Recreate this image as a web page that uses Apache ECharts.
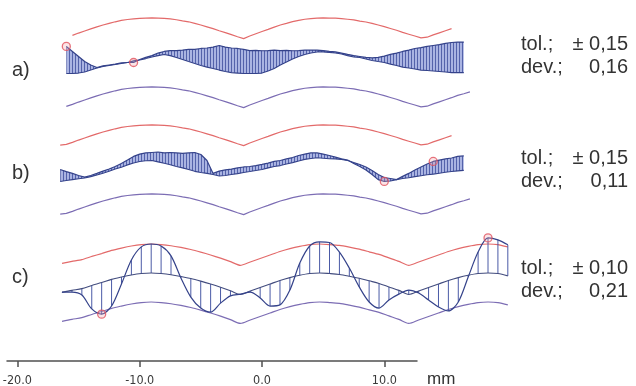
<!DOCTYPE html>
<html><head><meta charset="utf-8">
<script src="https://cdn.jsdelivr.net/npm/echarts@6/dist/echarts.min.js"></script>
<style>html,body{margin:0;padding:0;background:#fff}#c{width:636px;height:386px}</style>
</head><body><div id="c"></div>
<script>
// ---------------- data ----------------
const panelNames = ['a)', 'b)', 'c)'];
const tolMm = [0.15, 0.15, 0.10];
const devMm = [0.16, 0.11, 0.21];
const axisTicks = [-20, -10, 0, 10];
const axisUnit = 'mm';

// panels a and b: samples every 0.5 mm starting at -16.5 mm; values in µm
const xStartAB = -16.5, xStepAB = 0.5;
const bandMidAB = [-44,-41,-32,-22,-13,-4,5,13,20,27,33,37,40,42,43,44,43,42,40,36,31,27,20,13,5,-3,-12,-20,-29,-38,-46,-35,-25,-15,-6,4,13,20,28,33,38,41,43,44,43,43,41,38,35,30,26,20,13,6,-2,-10,-19,-27,-35,-43,-40,-30,-21,-12,-3,7,14,22,28];
const nominalA = [null,-48,-48,-46,-41,-33,-24,-17,-13,-9,-4,0,7,11,17,24,30,35,30,22,13,4,-4,-13,-20,-26,-33,-39,-44,-46,-48,-48,-48,-46,-37,-26,-11,2,15,26,35,41,46,46,44,41,37,30,24,22,15,9,4,0,-7,-13,-20,-24,-28,-33,-35,-37,-39,-41,-44,-44,-44,null,null];
const measuredA = [null,70,48,26,4,-11,-22,-15,-11,-7,-2,0,0,13,22,30,41,48,52,52,54,57,57,61,63,67,74,67,63,61,57,52,53,51,52,54,52,53,51,52,54,54,54,52,48,46,41,35,30,26,22,20,22,28,35,41,48,54,61,65,70,74,78,83,87,89,89,null,null];
const nominalB = [-52,-48,-44,-40,-37,-31,-24,-16,-8,2,10,20,28,35,38,39,33,27,21,13,7,0,-8,-13,-17,-22,-28,-26,-22,-18,-13,-9,-4,0,7,13,17,24,30,37,44,48,51,49,47,46,44,39,30,22,11,-4,-22,-35,-39,-44,-39,-36,-31,-27,-23,-20,-16,-12,-9,-6,-4,null,null];
const measuredB = [0,-9,-17,-26,-33,-26,-17,-7,2,13,26,41,57,67,72,74,76,72,74,72,70,72,74,65,39,-17,-7,-2,2,7,11,13,17,22,28,35,39,46,52,61,67,72,72,67,61,54,46,41,26,13,-2,-22,-44,-52,-50,-44,-30,-17,-2,11,24,35,41,46,50,57,59,null,null];

// panel c: samples every 0.81 mm starting at -16.35 mm; values in µm
const xStartC = -16.35, xStepC = 0.81;
const nominalC = [-29,-22,-16,-5,5,16,24,31,36,38,36,32,26,19,10,0,-11,-23,-36,-24,-12,0,12,22,30,36,38,36,33,27,20,11,2,-10,-22,-36,-24,-12,0,12,22,30,36,38,36,28];
const measuredC = [-28,-28,-38,-86,-104,-76,0,83,128,138,131,97,21,-45,-83,-97,-66,-41,-35,-28,-48,-76,-72,-21,72,131,145,143,110,55,-10,-62,-83,-55,-35,-21,-31,-55,-79,-93,-62,24,110,159,152,135];

// extents (mm) of upper / lower tolerance lines per panel
const upperRange = [[-15.7, 15.5], [-16.3, 15.3], [-16.4, 20.1]];
const lowerRange = [[-16.1, 17.2], [-16.4, 17.1], [-16.5, 20.1]];
// marked points: sample index on the measured profile
const markA = [1, 12];
const markB = [53, 61];
const markC = [4, 43];

// ---------------- chart ----------------
const X_MIN = -20.85, X_AXIS_MAX = 12.67, X_PLOT_MAX = 20.85;
const xsAB = bandMidAB.map((_, i) => +(xStartAB + i * xStepAB).toFixed(3));
const xsC = nominalC.map((_, i) => +(xStartC + i * xStepC).toFixed(3));

const panels = [
  {xs: xsAB, mid: bandMidAB, nom: nominalA, meas: measuredA, mark: markA, yR: 250, top: 5, height: 115, fill: true},
  {xs: xsAB, mid: bandMidAB, nom: nominalB, meas: measuredB, mark: markB, yR: 250, top: 112, height: 115, fill: true},
  {xs: xsC, mid: nominalC, nom: nominalC, meas: measuredC, mark: markC, yR: 200, top: 226, height: 116, fill: false}
];

const pat = document.createElement('canvas');
pat.width = 3; pat.height = 4;
const pg = pat.getContext('2d');
pg.fillStyle = '#aab4e2'; pg.fillRect(0, 0, 3, 4);
pg.fillStyle = '#5462aa'; pg.fillRect(0, 0, 1, 4);
const hatchFill = {image: pat, repeat: 'repeat'};

const RED = '#e36a6a', PURPLE = '#7c6db4', DARK = '#34428a';
const grids = [], xAxes = [], yAxes = [], series = [];

panels.forEach((P, p) => {
  grids.push({left: 7, width: 510, top: P.top, height: P.height, containLabel: false, outerBoundsMode: 'none'});
  xAxes.push({gridIndex: p, type: 'value', min: X_MIN, max: X_PLOT_MAX, show: false});
  yAxes.push({gridIndex: p, type: 'value', min: -P.yR, max: P.yR, show: false});
  const tol = tolMm[p] * 1000;
  const inR = (x, r) => x >= r[0] - 0.26 && x <= r[1] + 0.26;
  const base = {type: 'line', xAxisIndex: p, yAxisIndex: p, symbol: 'none', silent: true, animation: false};
  const smooth = P.fill ? false : 0.3;
  series.push(Object.assign({}, base, {
    data: P.xs.map((x, i) => inR(x, upperRange[p]) ? [x, P.mid[i] + tol] : null).filter(Boolean),
    lineStyle: {color: RED, width: 1.2}, smooth: P.fill ? false : 0.15, z: 2
  }));
  series.push(Object.assign({}, base, {
    data: P.xs.map((x, i) => inR(x, lowerRange[p]) ? [x, P.mid[i] - tol] : null).filter(Boolean),
    lineStyle: {color: PURPLE, width: 1.2}, smooth: P.fill ? false : 0.3, z: 2
  }));
  const valid = P.xs.map((x, i) => i).filter(i => P.nom[i] != null && P.meas[i] != null);
  if (P.fill) {
    series.push({
      type: 'custom', xAxisIndex: p, yAxisIndex: p, silent: true, animation: false, z: 3,
      data: [[P.xs[valid[0]], P.nom[valid[0]]]],
      renderItem: (params, api) => {
        if (params.dataIndex !== 0) return null;
        const pts = [];
        valid.forEach(i => pts.push(api.coord([P.xs[i], P.nom[i]])));
        valid.slice().reverse().forEach(i => pts.push(api.coord([P.xs[i], P.meas[i]])));
        return {type: 'polygon', shape: {points: pts}, style: {fill: hatchFill}};
      }
    });
  } else {
    series.push({
      type: 'custom', xAxisIndex: p, yAxisIndex: p, silent: true, animation: false, z: 3,
      data: valid.map(i => [P.xs[i], P.nom[i], P.meas[i]]),
      encode: {x: 0, y: [1, 2]},
      renderItem: (params, api) => {
        const a = api.coord([api.value(0), api.value(1)]);
        const b = api.coord([api.value(0), api.value(2)]);
        return {type: 'line', shape: {x1: a[0], y1: a[1], x2: b[0], y2: b[1]},
                style: {stroke: '#4a5aa6', lineWidth: 1}};
      }
    });
  }
  series.push(Object.assign({}, base, {
    data: valid.map(i => [P.xs[i], P.nom[i]]),
    lineStyle: {color: P.fill ? DARK : '#424c7e', width: 1.1}, smooth: smooth, z: 4
  }));
  series.push(Object.assign({}, base, {
    data: valid.map(i => [P.xs[i], P.meas[i]]),
    lineStyle: {color: DARK, width: 1.2}, smooth: smooth, z: 4
  }));
  series.push({
    type: 'scatter', xAxisIndex: p, yAxisIndex: p, silent: true, animation: false, z: 6,
    data: P.mark.map(i => [P.xs[i], P.meas[i]]),
    symbol: 'circle', symbolSize: 8,
    itemStyle: {color: 'rgba(240,160,170,0.35)', borderColor: '#e0505c', borderWidth: 1.3}
  });
});

// axis-only grid
grids.push({left: 7, width: 410, top: 340, height: 21, containLabel: false, outerBoundsMode: 'none'});
xAxes.push({
  gridIndex: 3, type: 'value', min: X_MIN, max: X_AXIS_MAX,
  axisLine: {show: true, lineStyle: {color: '#505050', width: 1.5}},
  axisTick: {show: true, customValues: axisTicks, length: 6, lineStyle: {color: '#505050', width: 1.5}},
  axisLabel: {show: true, customValues: axisTicks, formatter: v => Number(v).toFixed(1), margin: 13,
              fontSize: 12.5, color: '#3a3a3a', fontFamily: '"Liberation Sans Narrow", "DejaVu Sans Condensed", "Liberation Sans", sans-serif'},
  splitLine: {show: false}
});
yAxes.push({gridIndex: 3, type: 'value', min: 0, max: 1, show: false});

const labelY = [70, 173, 277];
const tolY = [44, 158, 268];
const devY = [67.5, 181.5, 291];
const font = '20px "Liberation Sans", Arial, sans-serif';
const fmt = v => v.toFixed(2).replace('.', ',');
const graphic = [];
panelNames.forEach((t, i) => {
  graphic.push({type: 'text', x: 12, y: labelY[i], silent: true, style: {text: t, font: font, fill: '#333', verticalAlign: 'middle'}});
  graphic.push({type: 'text', x: 521, y: tolY[i], silent: true, style: {text: 'tol.;', font: font, fill: '#333', verticalAlign: 'middle'}});
  graphic.push({type: 'text', x: 628, y: tolY[i], silent: true, style: {text: '\u00b1 ' + fmt(tolMm[i]), font: font, fill: '#333', align: 'right', verticalAlign: 'middle'}});
  graphic.push({type: 'text', x: 521, y: devY[i], silent: true, style: {text: 'dev.;', font: font, fill: '#333', verticalAlign: 'middle'}});
  graphic.push({type: 'text', x: 628, y: devY[i], silent: true, style: {text: fmt(devMm[i]), font: font, fill: '#333', align: 'right', verticalAlign: 'middle'}});
});
graphic.push({type: 'text', x: 427, y: 379, silent: true, style: {text: axisUnit, font: '17px "Liberation Sans", Arial, sans-serif', fill: '#333', verticalAlign: 'middle'}});

const chart = echarts.init(document.getElementById('c'), null, {renderer: 'canvas', width: 636, height: 386});
chart.setOption({
  animation: false,
  backgroundColor: '#fff',
  grid: grids, xAxis: xAxes, yAxis: yAxes, series: series, graphic: graphic
});
</script>
</body></html>
